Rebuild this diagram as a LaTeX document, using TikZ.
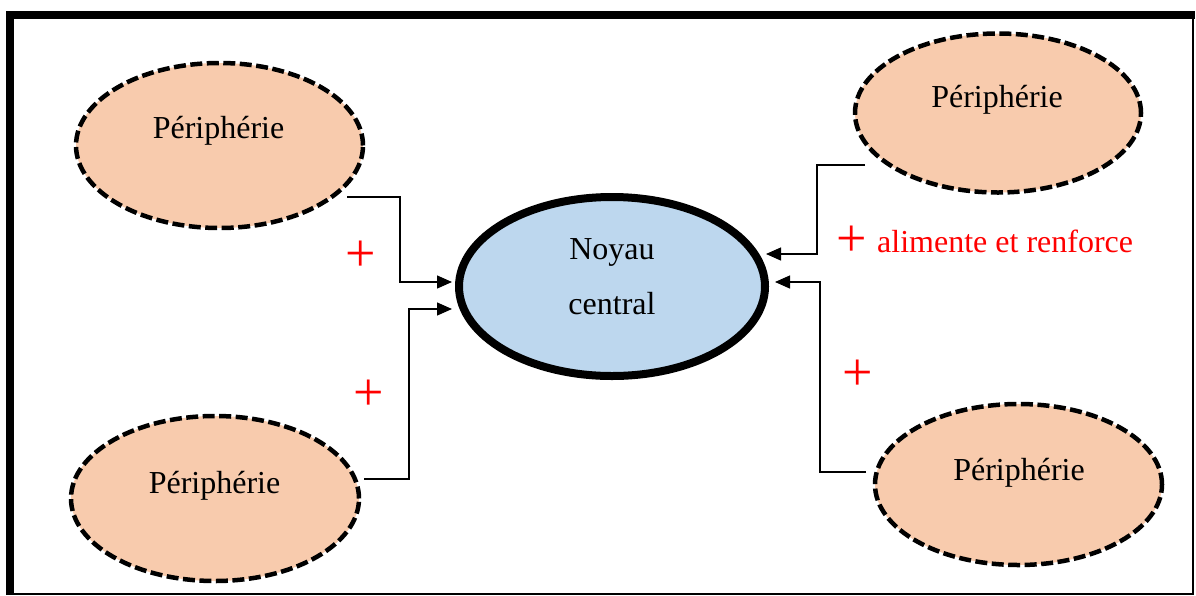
\documentclass[tikz,border=0pt]{standalone}
\usepackage{fontspec}
\setmainfont{Liberation Serif}
\usetikzlibrary{shapes.geometric,arrows.meta}
\definecolor{peach}{HTML}{F8CBAD}
\definecolor{paleblue}{HTML}{BDD7EE}
\tikzset{
  peri/.style={ellipse, draw=black, fill=peach, line width=4.5pt, dash pattern=on 12pt off 4.5pt, inner sep=0pt},
  core/.style={ellipse, draw=black, fill=paleblue, line width=8pt, inner sep=0pt},
  lbl/.style={anchor=base, inner sep=0pt, font=\fontsize{32}{38}\selectfont},
  plus/.style={inner sep=0pt, text=red, font=\fontsize{54}{54}\selectfont},
  conn/.style={line width=1.3pt, -{Triangle[length=15pt,width=13pt]}},
}
\begin{document}
\begin{tikzpicture}[x=1pt,y=-1pt]
\useasboundingbox (0,0) rectangle (1196,595);
% frame
\fill[black] (6,11) rectangle (14,595);
\fill[black] (6,11) rectangle (1194.5,19);
\draw[line width=2.2pt] (1193.3,19) -- (1193.3,593.8) -- (14,593.8);
% ellipses
\node[peri, minimum width=287pt, minimum height=165pt] (p1) at (219.5,145.5) {};
\node[peri, minimum width=286pt, minimum height=159pt] (p2) at (998,113) {};
\node[peri, minimum width=288pt, minimum height=165pt] (p3) at (215,498.5) {};
\node[peri, minimum width=287pt, minimum height=161pt] (p4) at (1018.5,484.5) {};
\node[core, minimum width=306pt, minimum height=179pt] (c) at (612,286.5) {};
% labels
\node[lbl] (t1) at (218.5,138) {Périphérie};
\node[lbl] (t2) at (997,107) {Périphérie};
\node[lbl] (t3) at (214.5,493) {Périphérie};
\node[lbl] (t4) at (1019,480) {Périphérie};
\node[lbl] (t5) at (612,259) {Noyau};
\node[lbl] (t6) at (612,314) {central};
% connector ends
\coordinate (s1) at (347,197);
\coordinate (e1) at (452,282);
\coordinate (s2) at (364,479);
\coordinate (e2) at (452,309);
\coordinate (s3) at (865,165);
\coordinate (e3) at (766,254);
\coordinate (s4) at (866,472);
\coordinate (e4) at (775,282);
\draw[conn] (s1) -- (400,197) |- (e1);
\draw[conn] (s2) -- (409,479) |- (e2);
\draw[conn] (s3) -- (817,165) |- (e3);
\draw[conn] (s4) -- (820,472) |- (e4);
% plus signs
\node[plus] (m1) at (361,256) {+};
\node[plus] (m2) at (369,395) {+};
\node[plus] (m3) at (852,241) {+};
\node[plus] (m4) at (858,375) {+};
\node[lbl, anchor=base west, text=red] (t7) at (877,252) {alimente et renforce};
\end{tikzpicture}
\end{document}
